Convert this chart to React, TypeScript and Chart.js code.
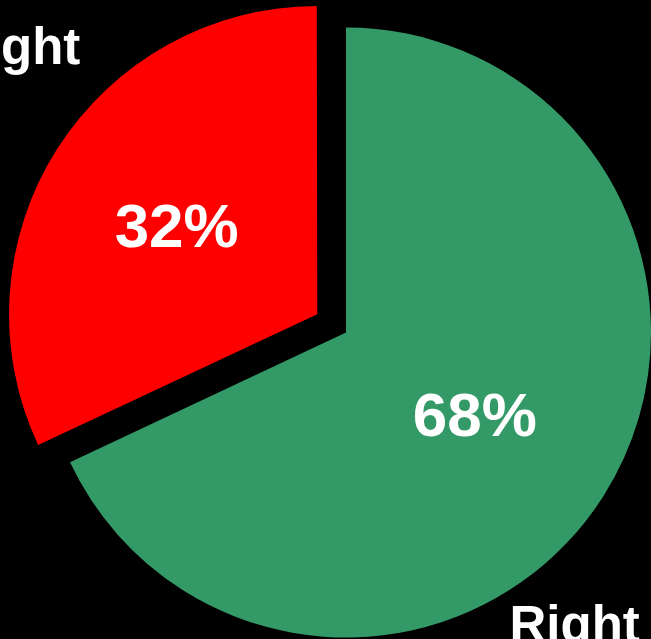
import React, { useEffect, useRef } from "react";
import { Chart, registerables } from "chart.js";

Chart.register(...registerables);

const categories = ["Right", "Not Right"];
const values = [68, 32];
const percentLabels = ["68%", "32%"];
const sliceColors = ["#339966", "#FF0000"];
const sliceOffsets = [0, 136];
// placement (in units of radius) for the labels
const percentRadiusFactor = [0.5, 0.546];
const categoryAnchor = [
  { dx: 0.536, dy: 1.016, align: "left" as CanvasTextAlign },
  { dx: -0.777, dy: -0.82, align: "right" as CanvasTextAlign },
];

const labelPlugin = {
  id: "sliceLabels",
  beforeDraw(chart: any) {
    const ctx = chart.ctx;
    ctx.save();
    ctx.fillStyle = "#000000";
    ctx.fillRect(0, 0, chart.width, chart.height);
    ctx.restore();
  },
  afterDatasetsDraw(chart: any) {
    const ctx = chart.ctx;
    const meta = chart.getDatasetMeta(0);
    ctx.save();
    meta.data.forEach((arc: any, i: number) => {
      const mid = (arc.startAngle + arc.endAngle) / 2;
      const shift = (arc.options.offset || 0) / 4;
      const cx = arc.x + Math.cos(mid) * shift;
      const cy = arc.y + Math.sin(mid) * shift;
      const r = arc.outerRadius;
      // percentage
      ctx.fillStyle = "#FFFFFF";
      ctx.font = "bold 62px 'Liberation Sans', Arial, sans-serif";
      ctx.textAlign = "center";
      ctx.textBaseline = "alphabetic";
      const px = cx + Math.cos(mid) * r * percentRadiusFactor[i];
      const py = cy + Math.sin(mid) * r * percentRadiusFactor[i];
      ctx.fillText(percentLabels[i], px, py + 22);
      // category
      const a = categoryAnchor[i];
      ctx.font = "bold 51px 'Liberation Sans', Arial, sans-serif";
      ctx.textAlign = a.align;
      ctx.fillText(categories[i], cx + a.dx * r, cy + a.dy * r);
    });
    ctx.restore();
  },
};

export default function App() {
  const canvasRef = useRef<HTMLCanvasElement | null>(null);

  useEffect(() => {
    document.body.style.margin = "0";
    document.body.style.background = "#000000";
    const canvas = canvasRef.current;
    if (!canvas) return;
    const chart = new Chart(canvas, {
      type: "pie",
      data: {
        labels: categories,
        datasets: [
          {
            data: values,
            backgroundColor: sliceColors,
            offset: sliceOffsets,
            borderWidth: 0,
            radius: 305,
          } as any,
        ],
      },
      options: {
        animation: false,
        responsive: false,
        devicePixelRatio: 1,
        layout: { padding: { left: 41, right: 0, top: 26, bottom: 0 } },
        plugins: {
          legend: { display: false },
          tooltip: { enabled: false },
          title: { display: false },
        },
      } as any,
      plugins: [labelPlugin],
    });
    return () => chart.destroy();
  }, []);

  return (
    <div style={{ position: "absolute", left: 0, top: 0, width: 651, height: 639, overflow: "hidden", background: "#000" }}>
      <canvas ref={canvasRef} width={651} height={639} style={{ display: "block" }} />
    </div>
  );
}
